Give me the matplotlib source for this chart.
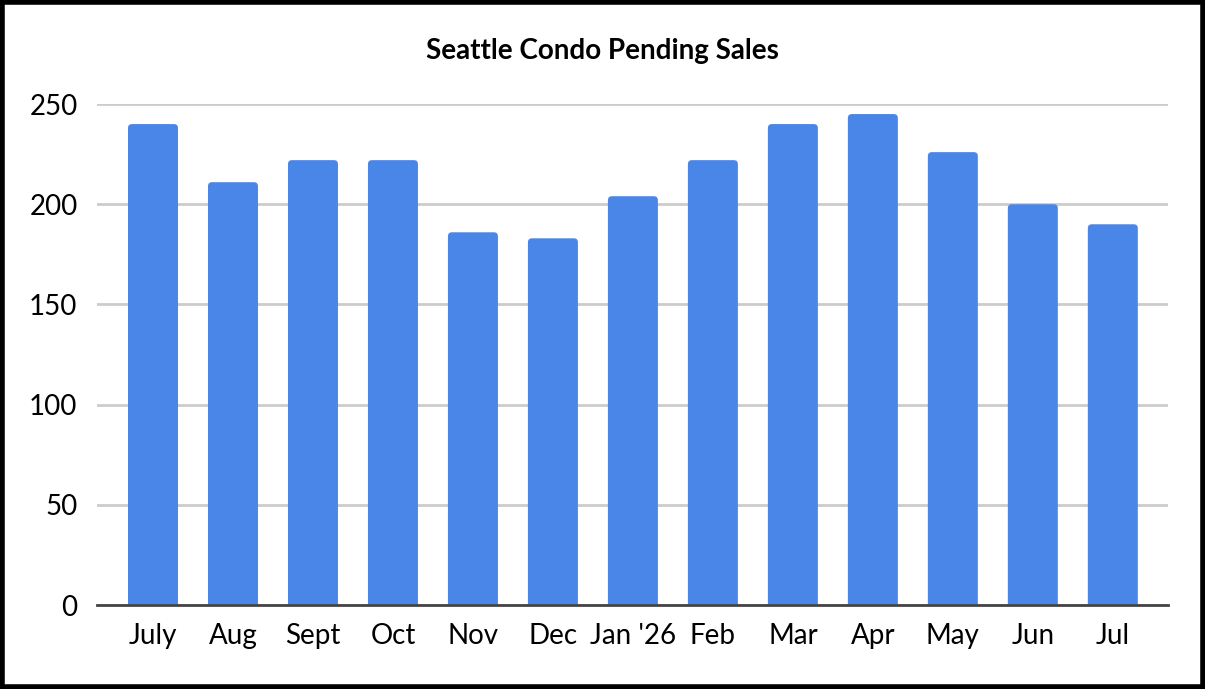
import matplotlib
matplotlib.use("Agg")
import matplotlib.pyplot as plt
from matplotlib.patches import FancyBboxPatch, Rectangle

# ---------------------------------------------------------
# Data
# ---------------------------------------------------------

months = ["July", "Aug", "Sept", "Oct", "Nov", "Dec", "Jan '26",
          "Feb", "Mar", "Apr", "May", "Jun", "Jul"]
pending = [240, 211, 222, 222, 186, 183, 204, 222, 240, 245, 226, 200, 190]

plt.rcParams["font.family"] = ["Lato", "DejaVu Sans"]

fig = plt.figure(figsize=(12.05, 6.89), dpi=100)
ax = fig.add_axes([0.0805, 0.1219, 0.8888, 0.7271])

bar_color = "#4a86e8"
width = 0.625
x = list(range(len(months)))

# Bars with slightly rounded tops (bottom is pushed below 0 and clipped)
ax.bar(x, pending, width=width, color=bar_color, alpha=0)
for xi, v in zip(x, pending):
    p = FancyBboxPatch((xi - width / 2, -10), width, v + 10,
                       boxstyle="round,pad=0,rounding_size=0.05",
                       mutation_aspect=40, facecolor=bar_color,
                       edgecolor="none", zorder=2)
    ax.add_patch(p)

ax.set_xlim(-0.7, 12.69)
ax.set_ylim(0, 250)
ax.set_yticks([0, 50, 100, 150, 200, 250])
ax.set_xticks(x)
ax.set_xticklabels(months)

ax.yaxis.grid(True, color="#cccccc", linewidth=2)
ax.set_axisbelow(True)
for side in ["top", "right", "left"]:
    ax.spines[side].set_visible(False)
ax.spines["bottom"].set_color("#444444")
ax.spines["bottom"].set_linewidth(2)
ax.spines["bottom"].set_zorder(3)

ax.tick_params(axis="both", length=0, labelsize=20, colors="black")
ax.tick_params(axis="x", pad=13)
ax.tick_params(axis="y", pad=14)

fig.text(0.5, 1 - 51 / 689, "Seattle Condo Pending Sales",
         ha="center", va="center", fontsize=20, fontweight="bold")

# black frame around the figure
fig.patches.append(Rectangle((0.0015, 0.003), 0.997, 0.994, transform=fig.transFigure,
                             fill=False, edgecolor="black", linewidth=4))

fig.savefig("out.png", dpi=100)
